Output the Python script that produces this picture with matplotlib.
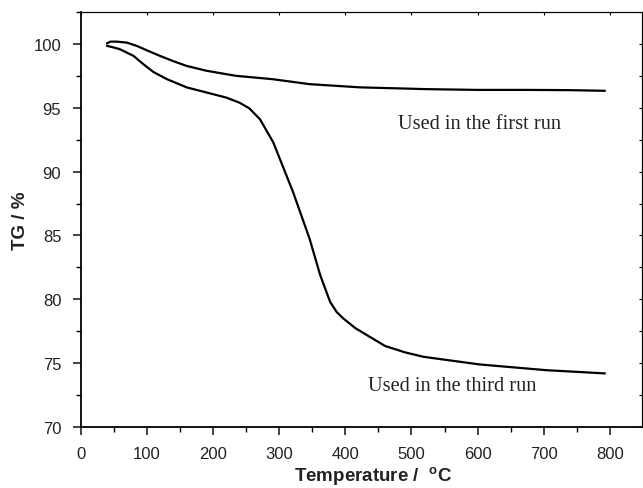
import matplotlib
matplotlib.use("Agg")
import matplotlib.pyplot as plt
from matplotlib.ticker import MultipleLocator

# TG curves (temperature in C, mass in %)
temp_first = [40, 45, 55, 70, 85, 100, 120, 140, 160, 190, 235, 290, 346,
              422, 522, 600, 674, 740, 792]
tg_first = [100.05, 100.18, 100.18, 100.1, 99.84, 99.5, 99.06, 98.65, 98.28,
            97.9, 97.5, 97.24, 96.85, 96.6, 96.46, 96.4, 96.4, 96.38, 96.33]

temp_third = [40, 50, 59, 80, 95, 110, 130, 160, 220, 240, 255, 271, 291,
              321, 346, 362, 377, 387, 397, 415, 437, 460, 490, 518, 603,
              704, 792]
tg_third = [99.85, 99.72, 99.59, 99.06, 98.4, 97.8, 97.25, 96.6, 95.8, 95.4,
            94.95, 94.1, 92.3, 88.4, 84.74, 81.9, 79.8, 79.0, 78.5, 77.75,
            77.06, 76.35, 75.85, 75.5, 74.9, 74.45, 74.2]

plt.rcParams["font.family"] = ["Liberation Sans", "DejaVu Sans"]
plt.rcParams["mathtext.default"] = "regular"

fig = plt.figure(figsize=(6.43, 4.89), dpi=100)
ax = fig.add_axes([0.1255, 0.1247, 0.8725, 0.8487])

ax.plot(temp_first, tg_first, color="black", lw=1.6)
ax.plot(temp_third, tg_third, color="black", lw=1.6)

ax.text(603, 93.73, "Used in the first run", family="Liberation Serif",
        fontsize=14.7, ha="center", va="center", color="#222222")
ax.text(562, 73.26, "Used in the third run", family="Liberation Serif",
        fontsize=14.7, ha="center", va="center", color="#222222")

ax.set_xlim(0, 848)
ax.set_ylim(70, 102.5)
ax.xaxis.set_major_locator(MultipleLocator(100))
ax.xaxis.set_minor_locator(MultipleLocator(50))
ax.yaxis.set_major_locator(MultipleLocator(5))
ax.yaxis.set_minor_locator(MultipleLocator(2.5))

ax.tick_params(which="major", direction="out", length=6, width=1.2,
               labelsize=12, colors="#222222", pad=8)
ax.tick_params(which="minor", direction="out", length=3.5, width=1.0)
for side in ("left", "bottom"):
    ax.spines[side].set_linewidth(1.3)
for side in ("top", "right"):
    ax.spines[side].set_linewidth(0.8)

# small inward ticks on top and right
top = ax.secondary_xaxis("top")
top.xaxis.set_major_locator(MultipleLocator(100))
top.tick_params(direction="in", length=2.5, width=0.8, labeltop=False)
right = ax.secondary_yaxis("right")
right.yaxis.set_major_locator(MultipleLocator(2.5))
right.tick_params(direction="in", length=2.5, width=0.8, labelright=False)

ax.set_xlabel(r"Temperature /  $^{o}$C", fontsize=13.5, fontweight="bold",
              color="#222222")
ax.set_ylabel("TG / %", fontsize=13.5, fontweight="bold", color="#222222")
ax.xaxis.set_label_coords(0.521, -0.088)
ax.yaxis.set_label_coords(-0.092, 0.5)

fig.savefig("out.png", dpi=100)
